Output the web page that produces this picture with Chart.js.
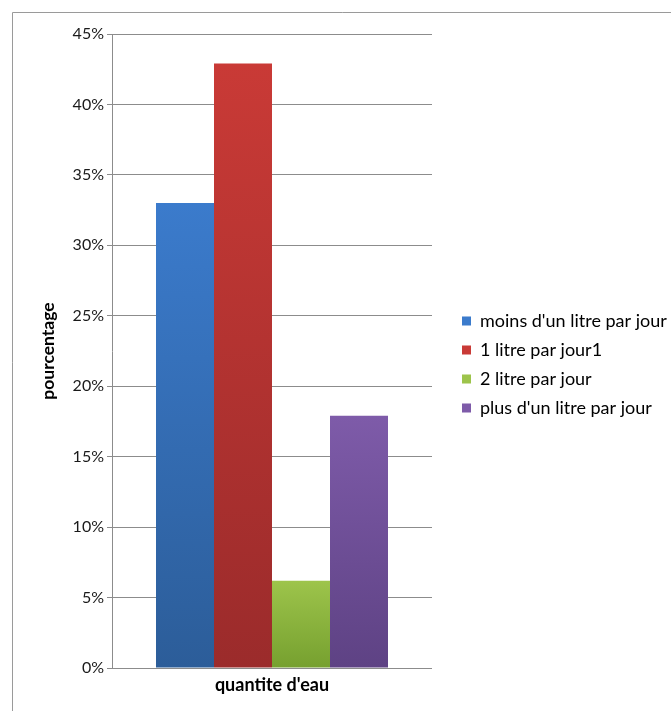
<!DOCTYPE html>
<html>
<head>
<meta charset="utf-8">
<script src="https://cdn.jsdelivr.net/npm/chart.js@4"></script>
<style>
  html, body { margin: 0; padding: 0; background: #fff; }
  #wrap { position: relative; width: 671px; height: 711px; }
</style>
</head>
<body>
<div id="wrap"><canvas id="c" width="671" height="711"></canvas></div>
<script>
const categories = ["quantite d'eau"];
const seriesNames = ["moins d'un litre par jour", "1 litre par jour1", "2 litre par jour", "plus d'un litre par jour"];
const seriesValues = [[33.0], [42.9], [6.2], [17.9]];
const yTicks = [0, 5, 10, 15, 20, 25, 30, 35, 40, 45];
const topColors = ["#3b7bcc", "#c93a36", "#9dc44b", "#7e5ba9"];
const bottomColors = ["#2c5d99", "#9b2b2b", "#76a02f", "#5e4284"];

const FONT = "Lato, 'Open Sans', 'Liberation Sans', sans-serif";
const FS = 16;
const LFS = 18;
const LEG_PAD = 11;

// compute right padding so the plot area ends at x=432 and legend starts after a gap
const mctx = document.createElement('canvas').getContext('2d');
mctx.font = LFS + 'px ' + FONT;
const maxText = Math.max(...seriesNames.map(s => mctx.measureText(s).width));
const legendW = LEG_PAD + 9 + LFS / 2 + maxText + 10;
const GAP = 30 - LEG_PAD;
const padRight = 671 - 432 - GAP - legendW;

function gradFor(i) {
  return function (ctx) {
    const chart = ctx.chart;
    const area = chart.chartArea;
    if (!area || ctx.type !== 'data') return topColors[i];
    const y = chart.scales.y;
    const y0 = y.getPixelForValue(ctx.raw);
    const y1 = y.getPixelForValue(0);
    const g = chart.ctx.createLinearGradient(0, y0, 0, y1);
    g.addColorStop(0, topColors[i]);
    g.addColorStop(1, bottomColors[i]);
    return g;
  };
}

const frame = {
  id: 'frame',
  beforeDraw(chart) {
    const c = chart.ctx;
    c.save();
    c.strokeStyle = '#9a9a9a';
    c.lineWidth = 1;
    c.beginPath();
    c.moveTo(12.5, 720);
    c.lineTo(12.5, 12.5);
    c.lineTo(700, 12.5);
    c.stroke();
    c.restore();
  }
};

new Chart(document.getElementById('c'), {
  type: 'bar',
  data: {
    labels: categories,
    datasets: seriesNames.map((n, i) => ({
      label: n,
      data: seriesValues[i],
      backgroundColor: gradFor(i),
      borderWidth: 0,
      barPercentage: 1.0,
      categoryPercentage: 0.725
    }))
  },
  options: {
    responsive: false,
    animation: false,
    devicePixelRatio: 1,
    layout: { padding: { top: 34, right: padRight, bottom: 16, left: 0 } },
    plugins: {
      tooltip: { enabled: false },
      legend: {
        position: 'right',
        align: 'center',
        maxWidth: 400,
        labels: {
          boxWidth: 9,
          boxHeight: 9,
          padding: LEG_PAD,
          color: '#1a1a1a',
          font: { family: FONT, size: LFS },
          generateLabels(chart) {
            return chart.data.datasets.map((d, i) => ({
              text: d.label,
              fillStyle: topColors[i],
              strokeStyle: topColors[i],
              lineWidth: 0,
              hidden: false,
              datasetIndex: i
            }));
          }
        }
      }
    },
    scales: {
      x: {
        grid: { display: false, drawTicks: false },
        border: { display: false },
        ticks: {
          color: '#000',
          font: { family: FONT, size: 18, weight: 'bold' },
          padding: 6
        },
        afterFit(s) { s.height = 27; }
      },
      y: {
        min: 0,
        max: 45,
        afterBuildTicks(s) { s.ticks = yTicks.map(v => ({ value: v })); },
        grid: { color: '#8c8c8c', lineWidth: 1, tickLength: 5, drawTicks: true },
        border: { display: true, color: '#8c8c8c' },
        ticks: {
          color: '#1a1a1a',
          font: { family: FONT, size: FS },
          padding: 3,
          callback: v => v + '%'
        },
        title: {
          display: true,
          text: 'pourcentage',
          color: '#000',
          font: { family: FONT, size: 17.5, weight: 'bold' },
          padding: { top: 38, bottom: 0 }
        },
        afterFit(s) { s.width = 112; }
      },
      gap: {
        position: 'right',
        display: true,
        grid: { display: false, drawTicks: false },
        border: { display: false },
        ticks: { display: false },
        afterFit(s) { s.width = GAP; }
      }
    }
  },
  plugins: [frame]
});
</script>
</body>
</html>
